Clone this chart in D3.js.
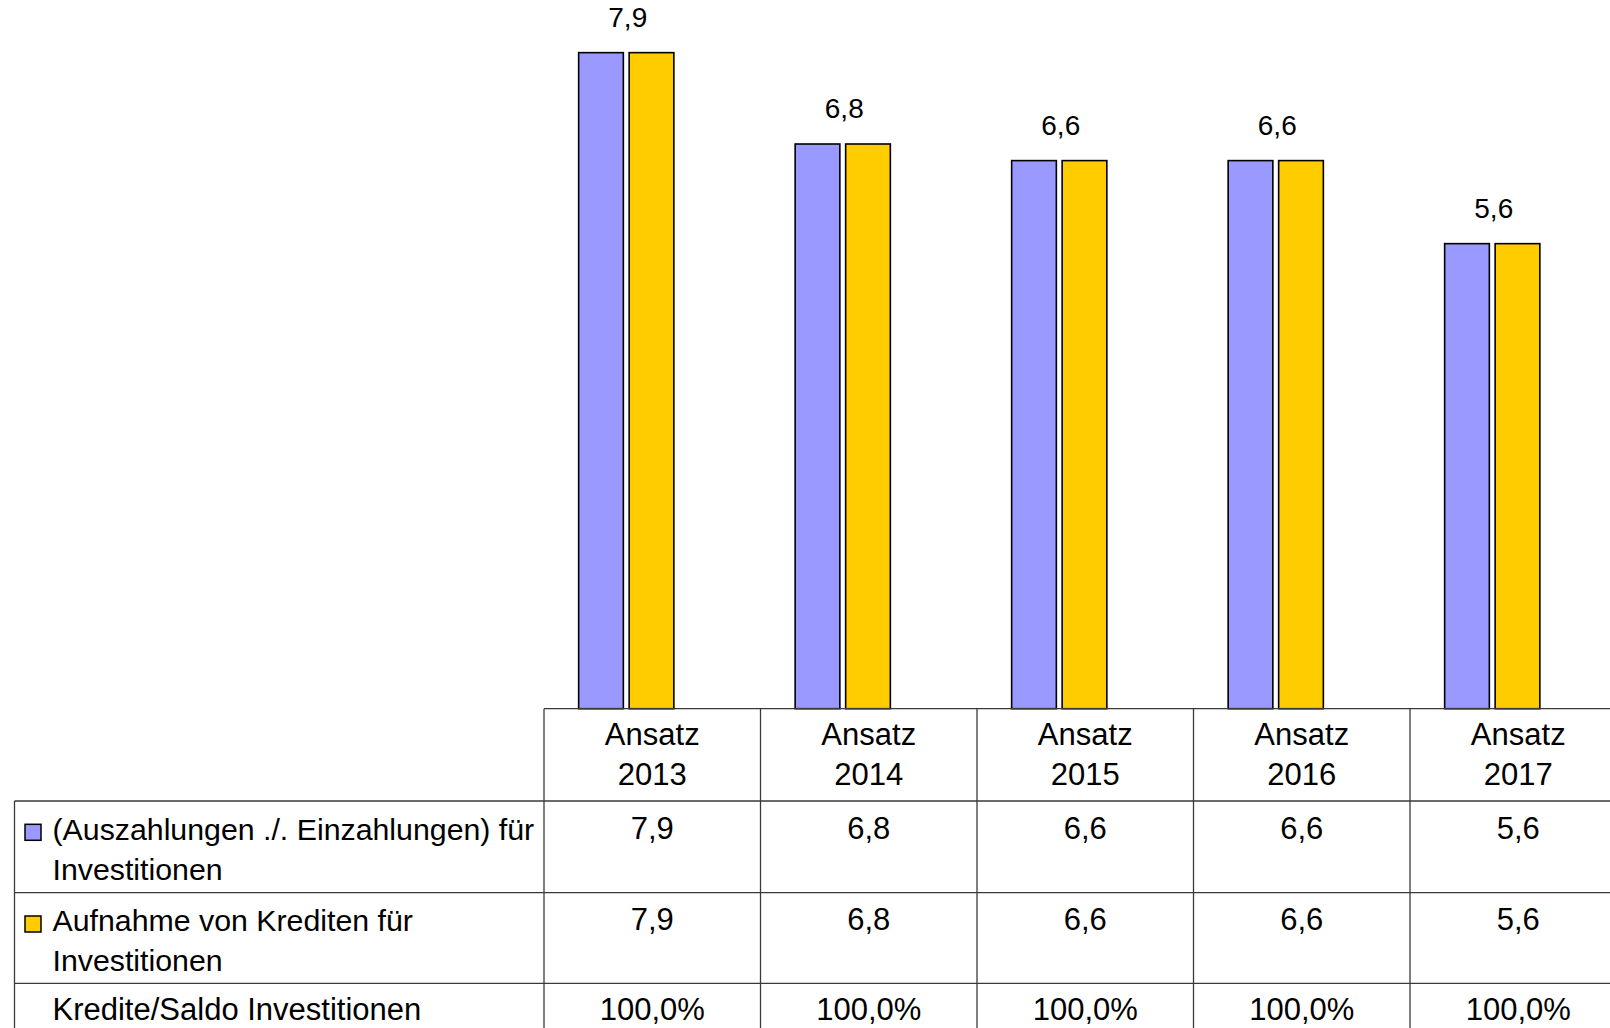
<!DOCTYPE html>
<html>
<head>
<meta charset="utf-8">
<script src="https://cdn.jsdelivr.net/npm/d3@7"></script>
<style>
  html, body { margin: 0; padding: 0; background: #fff; }
  svg { display: block; font-family: "Liberation Sans", Arial, sans-serif; }
</style>
</head>
<body>
<svg id="chart" width="1610" height="1028"></svg>
<script>
// ---- data ----
const categories = ["Ansatz 2013", "Ansatz 2014", "Ansatz 2015", "Ansatz 2016", "Ansatz 2017"];
const seriesNames = ["(Auszahlungen ./. Einzahlungen) für Investitionen", "Aufnahme von Krediten für Investitionen"];
const seriesLines = [["(Auszahlungen ./. Einzahlungen) für", "Investitionen"], ["Aufnahme von Krediten für", "Investitionen"]];
const saldoInvest = [7.9, 6.8, 6.6, 6.6, 5.6];
const krediteInvest = [7.9, 6.8, 6.6, 6.6, 5.6];
const ratioLabel = "Kredite/Saldo Investitionen";
const ratioValues = [100.0, 100.0, 100.0, 100.0, 100.0];
const seriesColors = ["#9999ff", "#ffcc00"];

// ---- layout ----
const svg = d3.select("#chart");
const W = 1610, H = 1028;
const tableLeft = 14.5, colStart = 544, colW = 216.5;
const axisY = 708.7;
const rowTops = [axisY, 801, 892.7, 983.3];
const fmt1 = v => d3.format(".1f")(v).replace(".", ",");
const fmtPct = v => d3.format(".1f")(v).replace(".", ",") + "%";

// table column scale
const xTable = d3.scaleBand().domain(categories).range([colStart, colStart + colW * categories.length]).padding(0);
// bar groups are offset left relative to table columns
const groupOffset = -26;
const xGroup = d3.scaleBand().domain(categories)
  .range([colStart + groupOffset, colStart + groupOffset + colW * categories.length]).padding(0);
const xSeries = d3.scaleBand().domain([0, 1]).range([colW / 2 - 48.35, colW / 2 + 48.35]).paddingInner(0.085).paddingOuter(0);
const y = d3.scaleLinear().domain([0, 8.534]).range([axisY, 0]);

const data = categories.map((c, i) => ({ cat: c, values: [saldoInvest[i], krediteInvest[i]] }));

// ---- bars ----
const g = svg.append("g");
const groups = g.selectAll("g.grp").data(data).join("g")
  .attr("class", "grp")
  .attr("transform", d => `translate(${xGroup(d.cat)},0)`);

groups.selectAll("rect").data(d => d.values.map((v, k) => ({ v, k }))).join("rect")
  .attr("x", d => xSeries(d.k) + 0.75)
  .attr("width", xSeries.bandwidth() - 1.5)
  .attr("y", d => y(d.v))
  .attr("height", d => y(0) - y(d.v))
  .attr("fill", d => seriesColors[d.k])
  .attr("stroke", "#000")
  .attr("stroke-width", 1.6);

// value labels above groups
groups.append("text")
  .attr("x", colW / 2 + 1.5)
  .attr("y", d => y(d3.max(d.values)) - 25.5)
  .attr("text-anchor", "middle")
  .attr("font-size", 28)
  .attr("fill", "#000")
  .text(d => fmt1(d.values[0]));

// ---- data table ----
const lineColor = "#3a3a3a";
const tg = svg.append("g");
const tableRight = W + 20;

// horizontal lines
tg.append("line").attr("x1", colStart).attr("x2", tableRight).attr("y1", rowTops[0]).attr("y2", rowTops[0])
  .attr("stroke", lineColor).attr("stroke-width", 1.3);
rowTops.slice(1).forEach(yy => {
  tg.append("line").attr("x1", tableLeft).attr("x2", tableRight).attr("y1", yy).attr("y2", yy)
    .attr("stroke", lineColor).attr("stroke-width", 1.3);
});
// vertical lines
tg.append("line").attr("x1", tableLeft).attr("x2", tableLeft).attr("y1", rowTops[1]).attr("y2", H + 5)
  .attr("stroke", lineColor).attr("stroke-width", 1.3);
categories.forEach(c => {
  const xx = xTable(c);
  tg.append("line").attr("x1", xx).attr("x2", xx).attr("y1", rowTops[0]).attr("y2", H + 5)
    .attr("stroke", lineColor).attr("stroke-width", 1.3);
});

const fs = 31, lh = 40, base = 36.5;
// header
categories.forEach(c => {
  const parts = c.split(" ");
  const t = tg.append("text").attr("text-anchor", "middle").attr("font-size", fs).attr("fill", "#000");
  parts.forEach((p, j) => {
    t.append("tspan").attr("x", xTable(c) + colW / 2).attr("y", rowTops[0] + base + j * lh).text(p);
  });
});

// series rows
const rowValues = [saldoInvest, krediteInvest];
seriesLines.forEach((lines, k) => {
  const top = rowTops[k + 1];
  tg.append("rect").attr("x", 25).attr("y", top + 23.3).attr("width", 16).attr("height", 16)
    .attr("fill", seriesColors[k]).attr("stroke", "#000").attr("stroke-width", 1.5);
  const t = tg.append("text").attr("font-size", 30.3).attr("fill", "#000");
  lines.forEach((ln, j) => {
    t.append("tspan").attr("x", 52.5).attr("y", top + base + 2 + j * lh).text(ln);
  });
  categories.forEach((c, i) => {
    tg.append("text").attr("x", xTable(c) + colW / 2).attr("y", top + base + 1)
      .attr("text-anchor", "middle").attr("font-size", fs).attr("fill", "#000")
      .text(fmt1(rowValues[k][i]));
  });
});

// ratio row
{
  const top = rowTops[3];
  tg.append("text").attr("x", 52.5).attr("y", top + base).attr("font-size", fs).attr("fill", "#000").text(ratioLabel);
  categories.forEach((c, i) => {
    tg.append("text").attr("x", xTable(c) + colW / 2).attr("y", top + base)
      .attr("text-anchor", "middle").attr("font-size", fs).attr("fill", "#000")
      .text(fmtPct(ratioValues[i]));
  });
}
</script>
</body>
</html>
